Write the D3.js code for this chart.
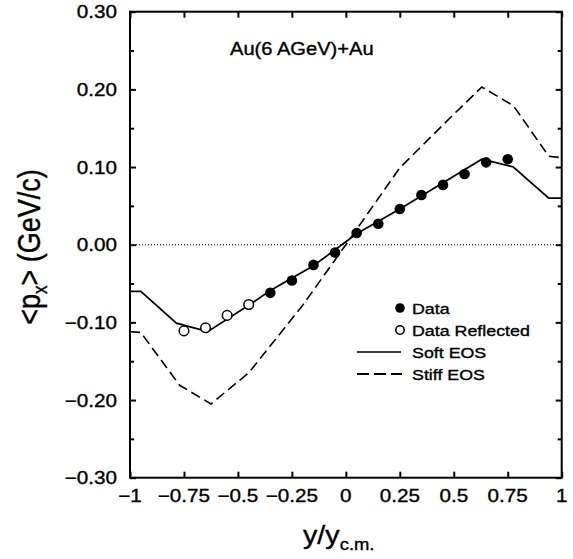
<!DOCTYPE html>
<html>
<head>
<meta charset="utf-8">
<script src="https://cdn.jsdelivr.net/npm/d3@7"></script>
<style>
  body { margin: 0; background: #fff; }
  svg { display: block; font-family: "Liberation Sans", Arial, Helvetica, sans-serif; }
  text { fill: #000; stroke: #000; stroke-width: 0.35px; }
</style>
</head>
<body>
<svg id="chart" width="573" height="559"></svg>
<script>
// ---- data ----
const dataX = [-0.35, -0.25, -0.15, -0.05, 0.05, 0.15, 0.25, 0.35, 0.45, 0.55, 0.65, 0.75];
const dataY = [-0.062, -0.046, -0.026, -0.010, 0.015, 0.027, 0.046, 0.064, 0.077, 0.091, 0.106, 0.110];

const reflX = [-0.75, -0.65, -0.55, -0.45];
const reflY = [-0.111, -0.107, -0.091, -0.077];

const softX = [-1, -0.95, -0.785, -0.64, -0.45, -0.35, -0.15, 0.05, 0.25, 0.63, 0.776, 0.94, 1];
const softY = [-0.060, -0.060, -0.101, -0.112, -0.078, -0.059, -0.027, 0.014, 0.046, 0.110, 0.100, 0.060, 0.060];

const stiffX = [-1, -0.95, -0.77, -0.625, -0.45, -0.2, 0, 0.25, 0.5, 0.63, 0.776, 0.94, 1];
const stiffY = [-0.112, -0.113, -0.181, -0.205, -0.165, -0.078, 0.0, 0.099, 0.168, 0.203, 0.179, 0.114, 0.112];

const xTicks = [-1, -0.75, -0.5, -0.25, 0, 0.25, 0.5, 0.75, 1];
const xTickLabels = ["\u22121", "\u22120.75", "\u22120.5", "\u22120.25", "0", "0.25", "0.5", "0.75", "1"];
const yTicks = [-0.3, -0.2, -0.1, 0, 0.1, 0.2, 0.3];
const yTickLabels = ["\u22120.30", "\u22120.20", "\u22120.10", "0.00", "0.10", "0.20", "0.30"];
const yMinor = [-0.25, -0.15, -0.05, 0.05, 0.15, 0.25];

const legendItems = ["Data", "Data Reflected", "Soft EOS", "Stiff EOS"];

// ---- layout ----
const margin = { top: 11.7, right: 11.3, bottom: 81.3, left: 130 };
const width = 573, height = 559;
const sx = 1.15; // glyphs in the figure are stretched horizontally

const svg = d3.select('#chart');

const x = d3.scaleLinear().domain([-1, 1]).range([margin.left, width - margin.right]);
const y = d3.scaleLinear().domain([-0.3, 0.3]).range([height - margin.bottom, margin.top]);

const pts = (xs, ys) => xs.map((v, i) => [v, ys[i]]);
const line = d3.line().x(d => x(d[0])).y(d => y(d[1]));

// zero line
svg.append('line')
  .attr('x1', x(-1)).attr('x2', x(1))
  .attr('y1', y(0)).attr('y2', y(0))
  .attr('stroke', '#000').attr('stroke-width', 1)
  .attr('stroke-dasharray', '1,2');

// ticks (inward on all four sides)
const tickStyle = g => {
  g.select('.domain').remove();
  g.selectAll('.tick line').attr('stroke', '#000').attr('stroke-width', 2);
};
svg.append('g').attr('transform', `translate(0,${y(-0.3)})`)
  .call(d3.axisBottom(x).tickValues(xTicks).tickSize(-6).tickFormat('')).call(tickStyle);
svg.append('g').attr('transform', `translate(0,${y(0.3)})`)
  .call(d3.axisTop(x).tickValues(xTicks).tickSize(-6).tickFormat('')).call(tickStyle);
svg.append('g').attr('transform', `translate(${x(-1)},0)`)
  .call(d3.axisLeft(y).tickValues(yTicks).tickSize(-6).tickFormat('')).call(tickStyle);
svg.append('g').attr('transform', `translate(${x(1)},0)`)
  .call(d3.axisRight(y).tickValues(yTicks).tickSize(-6).tickFormat('')).call(tickStyle);
svg.append('g').attr('transform', `translate(${x(-1)},0)`)
  .call(d3.axisLeft(y).tickValues(yMinor).tickSize(-4).tickFormat('')).call(tickStyle);
svg.append('g').attr('transform', `translate(${x(1)},0)`)
  .call(d3.axisRight(y).tickValues(yMinor).tickSize(-4).tickFormat('')).call(tickStyle);

// frame
svg.append('rect')
  .attr('x', x(-1)).attr('y', y(0.3))
  .attr('width', x(1) - x(-1)).attr('height', y(-0.3) - y(0.3))
  .attr('fill', 'none').attr('stroke', '#000').attr('stroke-width', 2);

// tick labels
svg.append('g').selectAll('text')
  .data(yTicks)
  .join('text')
  .attr('transform', d => `translate(${x(-1) - 13},${y(d)}) scale(${sx},1)`)
  .attr('dy', '0.36em')
  .attr('text-anchor', 'end')
  .attr('font-size', 18)
  .text((d, i) => yTickLabels[i]);

svg.append('g').selectAll('text')
  .data(xTicks)
  .join('text')
  .attr('transform', d => `translate(${x(d)},${y(-0.3) + 24}) scale(${sx},1)`)
  .attr('text-anchor', 'middle')
  .attr('font-size', 18)
  .text((d, i) => xTickLabels[i]);

// curves
svg.append('path')
  .datum(pts(stiffX, stiffY))
  .attr('d', line)
  .attr('fill', 'none').attr('stroke', '#000').attr('stroke-width', 1.6)
  .attr('stroke-dasharray', '10,5');

svg.append('path')
  .datum(pts(softX, softY))
  .attr('d', line)
  .attr('fill', 'none').attr('stroke', '#000').attr('stroke-width', 1.7);

// data points
svg.append('g').selectAll('circle')
  .data(pts(dataX, dataY))
  .join('circle')
  .attr('cx', d => x(d[0])).attr('cy', d => y(d[1]))
  .attr('r', 5.3).attr('fill', '#000');

svg.append('g').selectAll('circle')
  .data(pts(reflX, reflY))
  .join('circle')
  .attr('cx', d => x(d[0])).attr('cy', d => y(d[1]))
  .attr('r', 4.8).attr('fill', '#fff').attr('stroke', '#000').attr('stroke-width', 1.5);

// annotation
svg.append('text')
  .attr('transform', `translate(230,55) scale(${sx},1)`)
  .attr('font-size', 17.5)
  .text('Au(6 AGeV)+Au');

// legend
const legY = [308, 330, 352, 374];
const leg = svg.append('g');
leg.append('circle').attr('cx', 400).attr('cy', legY[0]).attr('r', 4.8).attr('fill', '#000');
leg.append('circle').attr('cx', 400).attr('cy', legY[1]).attr('r', 4.2).attr('fill', '#fff')
  .attr('stroke', '#000').attr('stroke-width', 1.6);
leg.append('line').attr('x1', 357).attr('x2', 401).attr('y1', legY[2]).attr('y2', legY[2])
  .attr('stroke', '#000').attr('stroke-width', 1.4);
leg.append('line').attr('x1', 357).attr('x2', 402).attr('y1', legY[3]).attr('y2', legY[3])
  .attr('stroke', '#000').attr('stroke-width', 2).attr('stroke-dasharray', '12,5');
leg.selectAll('text')
  .data(legendItems)
  .join('text')
  .attr('transform', (d, i) => `translate(412,${legY[i] + 5.5}) scale(${sx},1)`)
  .attr('font-size', 15.5)
  .text(d => d);

// axis titles
const yt = svg.append('text')
  .attr('transform', `translate(40,247) scale(${sx},1) rotate(-90)`)
  .attr('text-anchor', 'middle')
  .attr('font-size', 27);
yt.append('tspan').text('<p');
yt.append('tspan').attr('font-size', 17).attr('dy', 6).text('x');
yt.append('tspan').attr('dy', -6).text('> (GeV/c)');

const xt = svg.append('text')
  .attr('transform', `translate(303,544) scale(${sx},1)`)
  .attr('font-size', 25);
xt.append('tspan').text('y/y');
xt.append('tspan').attr('font-size', 16).attr('dy', 6).text('c.m.');
</script>
</body>
</html>
